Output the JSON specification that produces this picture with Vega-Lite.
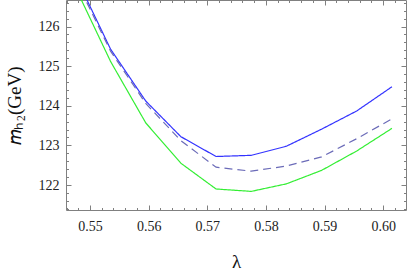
{
  "$schema": "https://vega.github.io/schema/vega-lite/v6.json",
  "width": 340,
  "height": 210,
  "autosize": "none",
  "padding": {"left": 66, "top": 0, "right": 1, "bottom": 62},
  "background": "white",
  "config": {
    "view": {"stroke": null},
    "axis": {
      "grid": false,
      "domainColor": "#808080",
      "tickColor": "#808080",
      "labelFont": "Liberation Serif",
      "labelFontSize": 14,
      "labelColor": "#222222",
      "titleFont": "Liberation Serif",
      "titleFontWeight": "normal",
      "titleColor": "#111111"
    }
  },
  "data": {
    "values": [
      {"lambda": 0.5475, "m": 127.28, "s": "blue"},
      {"lambda": 0.5535, "m": 125.43, "s": "blue"},
      {"lambda": 0.5595, "m": 124.12, "s": "blue"},
      {"lambda": 0.5655, "m": 123.22, "s": "blue"},
      {"lambda": 0.5715, "m": 122.72, "s": "blue"},
      {"lambda": 0.5775, "m": 122.75, "s": "blue"},
      {"lambda": 0.5835, "m": 122.98, "s": "blue"},
      {"lambda": 0.5895, "m": 123.41, "s": "blue"},
      {"lambda": 0.5955, "m": 123.87, "s": "blue"},
      {"lambda": 0.6015, "m": 124.48, "s": "blue"},
      {"lambda": 0.5475, "m": 127.2, "s": "dashed"},
      {"lambda": 0.5535, "m": 125.38, "s": "dashed"},
      {"lambda": 0.5595, "m": 124.06, "s": "dashed"},
      {"lambda": 0.5655, "m": 123.12, "s": "dashed"},
      {"lambda": 0.5715, "m": 122.45, "s": "dashed"},
      {"lambda": 0.5775, "m": 122.35, "s": "dashed"},
      {"lambda": 0.5835, "m": 122.48, "s": "dashed"},
      {"lambda": 0.5895, "m": 122.71, "s": "dashed"},
      {"lambda": 0.5955, "m": 123.17, "s": "dashed"},
      {"lambda": 0.6015, "m": 123.67, "s": "dashed"},
      {"lambda": 0.5475, "m": 126.99, "s": "green"},
      {"lambda": 0.5535, "m": 125.12, "s": "green"},
      {"lambda": 0.5595, "m": 123.57, "s": "green"},
      {"lambda": 0.5655, "m": 122.55, "s": "green"},
      {"lambda": 0.5715, "m": 121.9, "s": "green"},
      {"lambda": 0.5775, "m": 121.84, "s": "green"},
      {"lambda": 0.5835, "m": 122.03, "s": "green"},
      {"lambda": 0.5895, "m": 122.37, "s": "green"},
      {"lambda": 0.5955, "m": 122.86, "s": "green"},
      {"lambda": 0.6015, "m": 123.43, "s": "green"}
    ]
  },
  "resolve": {"axis": {"x": "independent", "y": "independent"}},
  "layer": [
    {
      "mark": {"type": "line", "clip": true, "strokeWidth": 1.2},
      "encoding": {
        "x": {
          "field": "lambda", "type": "quantitative",
          "scale": {"domain": [0.5459, 0.6039], "nice": false, "zero": false},
          "axis": {
            "orient": "bottom",
            "title": "λ",
            "titleFont": "Liberation Serif",
            "titleFontSize": 19,
            "titlePadding": 17,
            "labelFont": "Liberation Serif",
            "values": [0.546,0.548,0.55,0.552,0.554,0.556,0.558,0.56,0.562,0.564,0.566,0.568,0.57,0.572,0.574,0.576,0.578,0.58,0.582,0.584,0.586,0.588,0.59,0.592,0.594,0.596,0.598,0.6,0.602],
            "labelExpr": "abs(datum.value*100 - round(datum.value*100)) < 1e-6 ? format(datum.value, '.2f') : ''",
            "tickSize": {"condition": {"test": "abs(datum.value*100 - round(datum.value*100)) < 1e-6", "value": -5}, "value": -2.5},
            "labelPadding": 14,
            "labelFlush": false,
            "labelOverlap": false
          }
        },
        "y": {
          "field": "m", "type": "quantitative",
          "scale": {"domain": [121.37, 126.67], "nice": false, "zero": false},
          "axis": {
            "orient": "left",
            "title": "𝑚ₕ₂(GeV)",
            "titleFont": "Liberation Serif",
            "titleFontSize": 19,
            "titlePadding": 14,
            "labelFont": "Liberation Serif",
            "values": [121.4,121.6,121.8,122,122.2,122.4,122.6,122.8,123,123.2,123.4,123.6,123.8,124,124.2,124.4,124.6,124.8,125,125.2,125.4,125.6,125.8,126,126.2,126.4,126.6],
            "labelExpr": "abs(datum.value - round(datum.value)) < 1e-6 ? format(datum.value, 'd') : ''",
            "tickSize": {"condition": {"test": "abs(datum.value - round(datum.value)) < 1e-6", "value": -5}, "value": -2.5},
            "labelPadding": 12,
            "labelFlush": false,
            "labelOverlap": false
          }
        },
        "color": {
          "field": "s", "type": "nominal",
          "scale": {"domain": ["blue", "dashed", "green"], "range": ["#3333ff", "#6b6bb8", "#33ee33"]},
          "legend": null
        },
        "strokeDash": {
          "field": "s", "type": "nominal",
          "scale": {"domain": ["blue", "dashed", "green"], "range": [[1, 0], [8, 5], [1, 0]]},
          "legend": null
        }
      }
    },
    {
      "mark": {"type": "line", "clip": true, "opacity": 0},
      "encoding": {
        "x": {
          "field": "lambda", "type": "quantitative",
          "axis": {
            "orient": "top",
            "title": null,
            "labels": false,
            "values": [0.546,0.548,0.55,0.552,0.554,0.556,0.558,0.56,0.562,0.564,0.566,0.568,0.57,0.572,0.574,0.576,0.578,0.58,0.582,0.584,0.586,0.588,0.59,0.592,0.594,0.596,0.598,0.6,0.602],
            "tickSize": {"condition": {"test": "abs(datum.value*100 - round(datum.value*100)) < 1e-6", "value": -5}, "value": -2.5}
          }
        },
        "y": {
          "field": "m", "type": "quantitative",
          "axis": {
            "orient": "right",
            "title": null,
            "labels": false,
            "values": [121.4,121.6,121.8,122,122.2,122.4,122.6,122.8,123,123.2,123.4,123.6,123.8,124,124.2,124.4,124.6,124.8,125,125.2,125.4,125.6,125.8,126,126.2,126.4,126.6],
            "tickSize": {"condition": {"test": "abs(datum.value - round(datum.value)) < 1e-6", "value": -5}, "value": -2.5}
          }
        },
        "detail": {"field": "s", "type": "nominal"}
      }
    }
  ]
}
